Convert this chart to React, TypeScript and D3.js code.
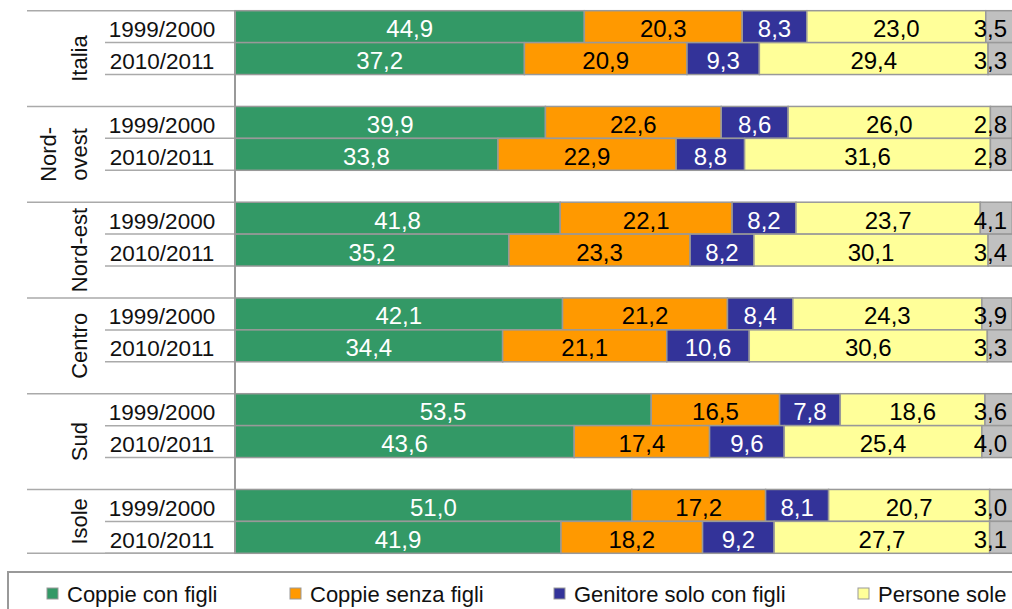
import React from "react";
import * as d3 from "d3";

const groups = ["Italia", "Nord-ovest", "Nord-est", "Centro", "Sud", "Isole"];
const periods = ["1999/2000", "2010/2011"];
const seriesNames = ["Coppie con figli", "Coppie senza figli", "Genitore solo con figli", "Persone sole"];
const seriesColors = ["#339966", "#FF9900", "#333399", "#FFFF99", "#C0C0C0"];
const labelColors = ["#ffffff", "#000000", "#ffffff", "#000000", "#000000"];

// order: Italia 99, Italia 10, Nord-ovest 99, Nord-ovest 10, ...
const coppieConFigli = [44.9, 37.2, 39.9, 33.8, 41.8, 35.2, 42.1, 34.4, 53.5, 43.6, 51.0, 41.9];
const coppieSenzaFigli = [20.3, 20.9, 22.6, 22.9, 22.1, 23.3, 21.2, 21.1, 16.5, 17.4, 17.2, 18.2];
const genitoreSolo = [8.3, 9.3, 8.6, 8.8, 8.2, 8.2, 8.4, 10.6, 7.8, 9.6, 8.1, 9.2];
const personeSole = [23.0, 29.4, 26.0, 31.6, 23.7, 30.1, 24.3, 30.6, 18.6, 25.4, 20.7, 27.7];
const altro = [3.5, 3.3, 2.8, 2.8, 4.1, 3.4, 3.9, 3.3, 3.6, 4.0, 3.0, 3.1];

const seriesValues = [coppieConFigli, coppieSenzaFigli, genitoreSolo, personeSole, altro];

const FONT = "'Liberation Sans', Arial, Helvetica, sans-serif";

export default function App() {
  const W = 1012;
  const H = 609;
  const plotLeft = 235;
  const plotRight = 1013;
  const top = 10.7;
  const bottom = 553.3;

  // row keys: each group has two periods plus a blank spacer (except the last)
  const rowKeys: string[] = [];
  groups.forEach((g, gi) => {
    periods.forEach((p) => rowKeys.push(`${g}|${p}`));
    if (gi < groups.length - 1) rowKeys.push(`${g}|gap`);
  });

  const y = d3.scaleBand<string>().domain(rowKeys).range([top, bottom]).paddingInner(0).paddingOuter(0);
  const x = d3.scaleLinear().domain([0, 100]).range([plotLeft, plotRight]);
  const fmt = (v: number) => d3.format(".1f")(v).replace(".", ",");

  const rows = groups.flatMap((g, gi) =>
    periods.map((p, pi) => {
      const idx = gi * 2 + pi;
      const vals = seriesValues.map((s) => s[idx]);
      let acc = 0;
      const segs = vals.map((v, si) => {
        const x0 = acc;
        acc += v;
        return { si, v, x0, x1: acc };
      });
      return { key: `${g}|${p}`, g, p, segs };
    })
  );

  const bw = y.bandwidth();

  const groupTop = (gi: number) => y(`${groups[gi]}|${periods[0]}`)!;
  const groupEnd = (gi: number) =>
    gi < groups.length - 1 ? y(`${groups[gi]}|gap`)! + bw : y(`${groups[gi]}|${periods[1]}`)! + bw;

  const legendX = [47, 290, 554, 858];

  return (
    <svg
      width={W}
      height={H}
      style={{ position: "absolute", left: 0, top: 0, display: "block" }}
      fontFamily={FONT}
    >
      <rect x={0} y={0} width={W} height={H} fill="#ffffff" />

      {/* left label lines */}
      {groups.map((g, gi) => (
        <g key={`gl-${g}`}>
          <line x1={27} x2={plotLeft} y1={groupTop(gi)} y2={groupTop(gi)} stroke="#aaaaaa" strokeWidth={1.5} />
          {periods.map((p) => (
            <line
              key={p}
              x1={105}
              x2={plotLeft}
              y1={y(`${g}|${p}`)! + bw}
              y2={y(`${g}|${p}`)! + bw}
              stroke="#aaaaaa"
              strokeWidth={1.5}
            />
          ))}
        </g>
      ))}
      <line x1={27} x2={plotLeft} y1={bottom} y2={bottom} stroke="#aaaaaa" strokeWidth={1.5} />

      {/* bars */}
      {rows.map((r) => (
        <g key={r.key}>
          {r.segs.map((s) => (
            <rect
              key={s.si}
              x={x(s.x0)}
              y={y(r.key)!}
              width={x(s.x1) - x(s.x0)}
              height={bw}
              fill={seriesColors[s.si]}
              stroke="#999999"
              strokeWidth={1.5}
            />
          ))}
        </g>
      ))}

      {/* value labels */}
      {rows.map((r) => (
        <g key={`lab-${r.key}`}>
          {r.segs.map((s) => {
            const last = s.si === r.segs.length - 1;
            const cx = last ? 1007 : (x(s.x0) + x(s.x1)) / 2;
            return (
              <text
                key={s.si}
                x={cx}
                y={y(r.key)! + bw / 2 + 10.5}
                textAnchor={last ? "end" : "middle"}
                fontSize={24}
                fill={labelColors[s.si]}
              >
                {fmt(s.v)}
              </text>
            );
          })}
        </g>
      ))}

      {/* axis line */}
      <line x1={plotLeft} x2={plotLeft} y1={top} y2={bottom} stroke="#999999" strokeWidth={2} />

      {/* period labels */}
      {rows.map((r) => (
        <text
          key={`pl-${r.key}`}
          x={162}
          y={y(r.key)! + bw / 2 + 10.5}
          textAnchor="middle"
          fontSize={22.5}
          fill="#111111"
        >
          {r.p}
        </text>
      ))}

      {/* group labels */}
      {groups.map((g, gi) => {
        const cy = (groupTop(gi) + groupEnd(gi)) / 2;
        if (g === "Nord-ovest") {
          return (
            <g key={`g-${g}`}>
              <text transform={`translate(56,${cy}) rotate(-90)`} textAnchor="middle" fontSize={22} fill="#111111">
                Nord-
              </text>
              <text transform={`translate(87,${cy}) rotate(-90)`} textAnchor="middle" fontSize={22} fill="#111111">
                ovest
              </text>
            </g>
          );
        }
        return (
          <text
            key={`g-${g}`}
            transform={`translate(87,${cy}) rotate(-90)`}
            textAnchor="middle"
            fontSize={22}
            fill="#111111"
          >
            {g}
          </text>
        );
      })}

      {/* legend */}
      <rect x={8} y={572} width={1100} height={80} fill="none" stroke="#999999" strokeWidth={2} />
      {seriesNames.map((n, i) => (
        <g key={`leg-${n}`}>
          <rect x={legendX[i]} y={588} width={11} height={11} fill={seriesColors[i]} stroke="#999999" strokeWidth={1} />
          <text x={legendX[i] + 20} y={602} fontSize={22} fill="#111111">
            {n}
          </text>
        </g>
      ))}
    </svg>
  );
}
